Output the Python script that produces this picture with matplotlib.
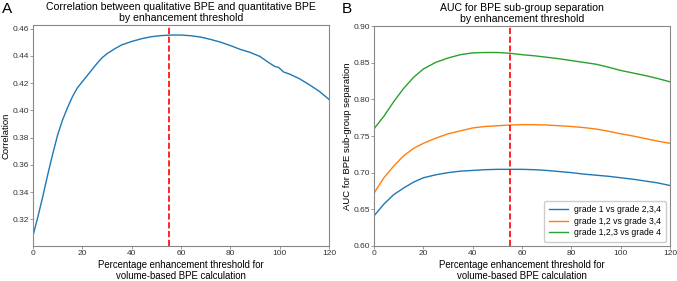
import numpy as np
import matplotlib
matplotlib.use("Agg")
import matplotlib.pyplot as plt

plt.rcParams['font.family'] = ['Liberation Sans', 'DejaVu Sans']

# panel A: correlation vs threshold
thr_a = [0, 2, 4, 6, 8, 10, 12, 14, 16, 18, 20, 22, 24, 26, 28, 30, 33, 36, 40, 44,
         48, 52, 56, 60, 64, 68, 72, 76, 80, 84, 88, 92, 96, 98, 99.5, 100.5, 101.5,
         104, 108, 112, 116, 120]
corr = [0.308, 0.322, 0.337, 0.353, 0.368, 0.382, 0.393, 0.402, 0.410, 0.4165, 0.421,
        0.4255, 0.430, 0.4345, 0.4385, 0.4415, 0.445, 0.448, 0.4505, 0.4525, 0.454, 0.4548,
        0.4552, 0.4552, 0.4547, 0.4537, 0.452, 0.450, 0.4475, 0.4447, 0.4425, 0.4395,
        0.4345, 0.4322, 0.4315, 0.4300, 0.4282, 0.4266, 0.4232, 0.4188, 0.414, 0.408]

# panel B: AUC vs threshold
thr_b = [0, 4, 8, 12, 16, 20, 25, 30, 35, 40, 45, 50, 55, 60, 65, 70, 75, 80, 85, 90,
         95, 100, 105, 110, 115, 120]
auc_1 = [0.641, 0.657, 0.670, 0.679, 0.687, 0.693, 0.697, 0.700, 0.702, 0.703, 0.704,
         0.7045, 0.7045, 0.7045, 0.704, 0.703, 0.7015, 0.700, 0.698, 0.6965, 0.695, 0.693,
         0.691, 0.6885, 0.686, 0.6824]
auc_12 = [0.672, 0.693, 0.709, 0.723, 0.733, 0.740, 0.747, 0.753, 0.757, 0.761, 0.763,
          0.764, 0.765, 0.7655, 0.7655, 0.765, 0.764, 0.763, 0.7615, 0.7595, 0.7565, 0.753,
          0.750, 0.7465, 0.743, 0.740]
auc_123 = [0.760, 0.777, 0.797, 0.815, 0.830, 0.8415, 0.8505, 0.8565, 0.861, 0.8635, 0.864,
           0.864, 0.863, 0.861, 0.8595, 0.8575, 0.8555, 0.853, 0.8505, 0.848, 0.844, 0.8395,
           0.836, 0.8325, 0.8285, 0.824]
labels_b = ["grade 1 vs grade 2,3,4", "grade 1,2 vs grade 3,4", "grade 1,2,3 vs grade 4"]
best_thr = 55

xlabel = "Percentage enhancement threshold for\nvolume-based BPE calculation"
spine_col = "#888888"
txt = 7.6
tick = 6.0

fig = plt.figure(figsize=(6.77, 2.81), dpi=100)
ax1 = fig.add_axes([0.0487, 0.125, 0.4373, 0.786])
ax2 = fig.add_axes([0.5525, 0.125, 0.4372, 0.782])

ax1.plot(thr_a, corr, color="#1f77b4", lw=1.0)
ax1.axvline(best_thr, color="red", ls="--", lw=1.2)
ax1.set_xlim(0, 120)
ax1.set_title("Correlation between qualitative BPE and quantitative BPE\nby enhancement threshold",
              fontsize=txt, pad=3, linespacing=1.1)
ax1.set_ylabel("Correlation", fontsize=6.8)
ax1.yaxis.set_label_coords(-0.076, 0.5)

cols = ["#1f77b4", "#ff7f0e", "#2ca02c"]
for ys, c, lab in zip([auc_1, auc_12, auc_123], cols, labels_b):
    ax2.plot(thr_b, ys, color=c, lw=1.0, label=lab)
ax2.axvline(best_thr, color="red", ls="--", lw=1.2)
ax2.set_xlim(0, 120)
ax2.set_ylim(0.6, 0.9)
ax2.set_yticks(np.arange(0.60, 0.91, 0.05))
ax2.set_title("AUC for BPE sub-group separation\nby enhancement threshold",
              fontsize=txt, pad=3, linespacing=1.1)
ax2.set_ylabel("AUC for BPE sub-group separation", fontsize=6.8)
ax2.yaxis.set_label_coords(-0.073, 0.5)
ax2.legend(loc="lower right", fontsize=6.2, handlelength=2.2, borderpad=0.5,
           labelspacing=0.3, framealpha=1, edgecolor="#cccccc", fancybox=True)

for ax in (ax1, ax2):
    ax.set_xticks([0, 20, 40, 60, 80, 100, 120])
    ax.set_xlabel(xlabel, fontsize=6.9, linespacing=1.1)
    ax.xaxis.set_label_coords(0.5, -0.064)
    for s in ax.spines.values():
        s.set_color(spine_col)
    ax.tick_params(labelsize=tick, length=2.0, width=0.6, color=spine_col, pad=1.0,
                   labelcolor="#333333")

fig.text(0.003, 0.955, "A", fontsize=11)
fig.text(0.505, 0.955, "B", fontsize=11)

fig.savefig("out.png", dpi=100)
